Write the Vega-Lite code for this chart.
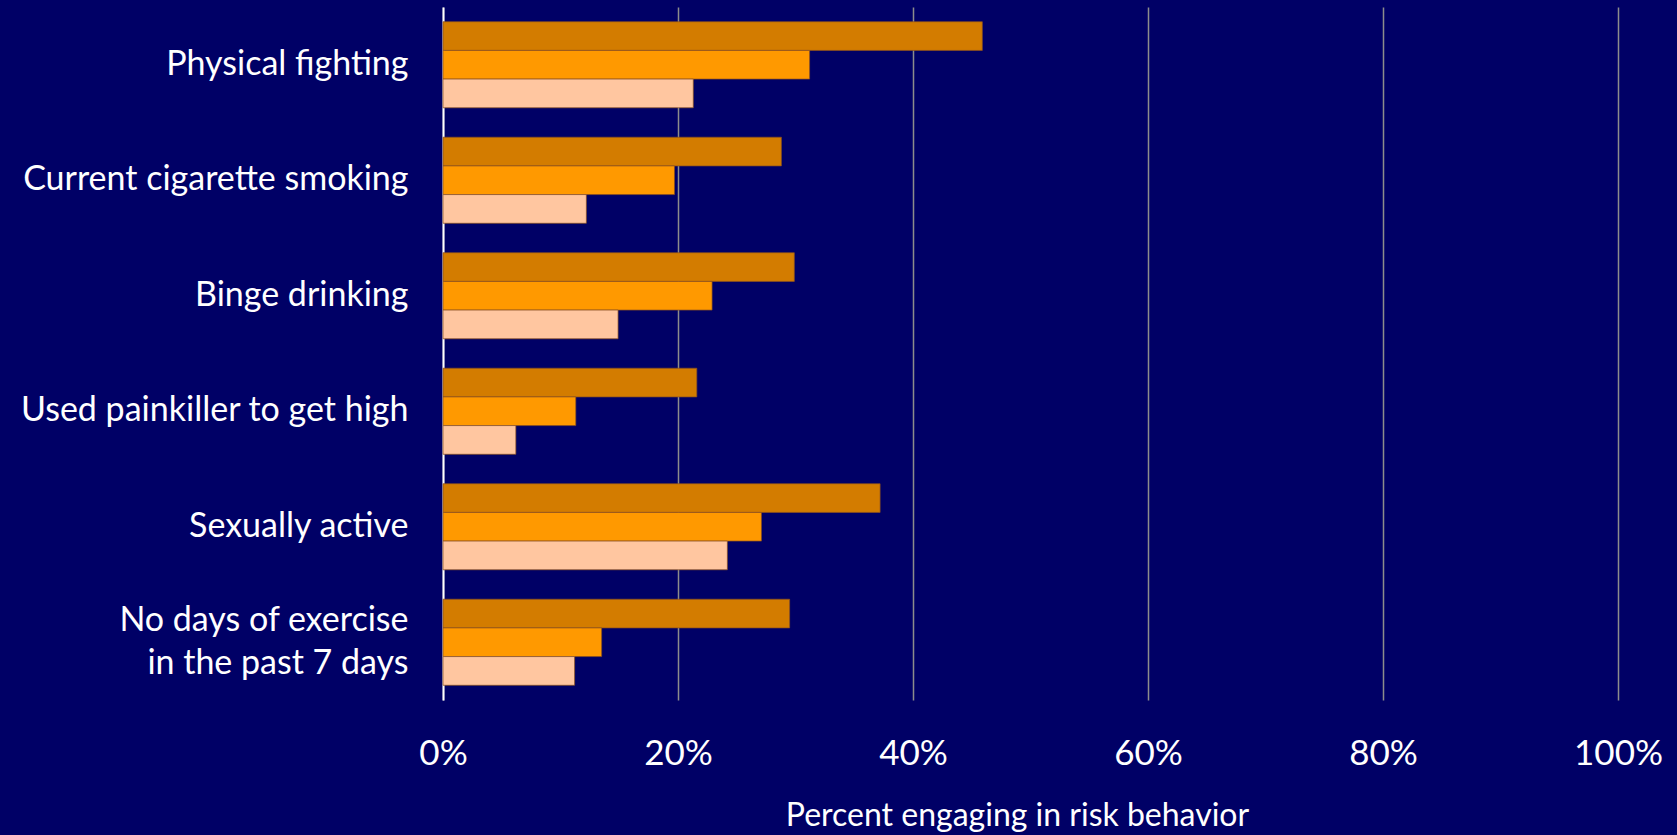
{
  "$schema": "https://vega.github.io/schema/vega-lite/v6.json",
  "width": 1175,
  "height": 693,
  "autosize": {"type": "none"},
  "padding": {"left": 443, "top": 7, "right": 59, "bottom": 135},
  "background": "#000066",
  "config": {"view": {"stroke": null}},
  "data": {
    "values": [
      {"behavior": "Physical fighting", "series": "1", "pct": 0.459},
      {"behavior": "Physical fighting", "series": "2", "pct": 0.312},
      {"behavior": "Physical fighting", "series": "3", "pct": 0.213},
      {"behavior": "Current cigarette smoking", "series": "1", "pct": 0.288},
      {"behavior": "Current cigarette smoking", "series": "2", "pct": 0.197},
      {"behavior": "Current cigarette smoking", "series": "3", "pct": 0.122},
      {"behavior": "Binge drinking", "series": "1", "pct": 0.299},
      {"behavior": "Binge drinking", "series": "2", "pct": 0.229},
      {"behavior": "Binge drinking", "series": "3", "pct": 0.149},
      {"behavior": "Used painkiller to get high", "series": "1", "pct": 0.216},
      {"behavior": "Used painkiller to get high", "series": "2", "pct": 0.113},
      {"behavior": "Used painkiller to get high", "series": "3", "pct": 0.062},
      {"behavior": "Sexually active", "series": "1", "pct": 0.372},
      {"behavior": "Sexually active", "series": "2", "pct": 0.271},
      {"behavior": "Sexually active", "series": "3", "pct": 0.242},
      {"behavior": "No days of exercise|in the past 7 days ", "series": "1", "pct": 0.295},
      {"behavior": "No days of exercise|in the past 7 days ", "series": "2", "pct": 0.135},
      {"behavior": "No days of exercise|in the past 7 days ", "series": "3", "pct": 0.112}
    ]
  },
  "mark": {"type": "bar", "stroke": "#8a5020", "strokeWidth": 1, "strokeOpacity": 0.7},
  "encoding": {
    "y": {
      "field": "behavior",
      "type": "nominal",
      "sort": null,
      "scale": {"paddingInner": 0.255, "paddingOuter": 0.1275},
      "axis": {
        "title": null,
        "ticks": false,
        "domain": true,
        "domainColor": "#ffffff",
        "domainWidth": 2,
        "labelColor": "#ffffff",
        "labelFont": "Lato",
        "labelFontSize": 34,
        "labelPadding": 35,
        "labelLimit": 600,
        "labelLineHeight": 43,
        "labelOffset": {"condition": {"test": "indexof(datum.value, '|') >= 0", "value": -21}, "value": 0},
        "labelExpr": "split(datum.label, '|')"
      }
    },
    "yOffset": {"field": "series", "type": "nominal", "sort": ["1", "2", "3"], "scale": {"paddingInner": 0, "paddingOuter": 0}},
    "x": {
      "field": "pct",
      "type": "quantitative",
      "scale": {"domain": [0, 1], "nice": false},
      "axis": {
        "values": [0, 0.2, 0.4, 0.6, 0.8, 1],
        "format": ".0%",
        "title": "Percent engaging in risk behavior",
        "titleColor": "#ffffff",
        "titleFont": "Lato",
        "titleFontSize": 32,
        "titleFontWeight": "normal",
        "titlePadding": 29,
        "titleX": 574,
        "domain": false,
        "ticks": false,
        "grid": true,
        "gridColor": "#8c8c8c",
        "gridWidth": 1.5,
        "labelColor": "#ffffff",
        "labelFont": "Lato",
        "labelFontSize": 35,
        "labelPadding": 36,
        "labelFlush": false
      }
    },
    "color": {
      "field": "series",
      "type": "nominal",
      "scale": {"domain": ["1", "2", "3"], "range": ["#D37C00", "#FF9900", "#FFC6A0"]},
      "legend": null
    }
  }
}
